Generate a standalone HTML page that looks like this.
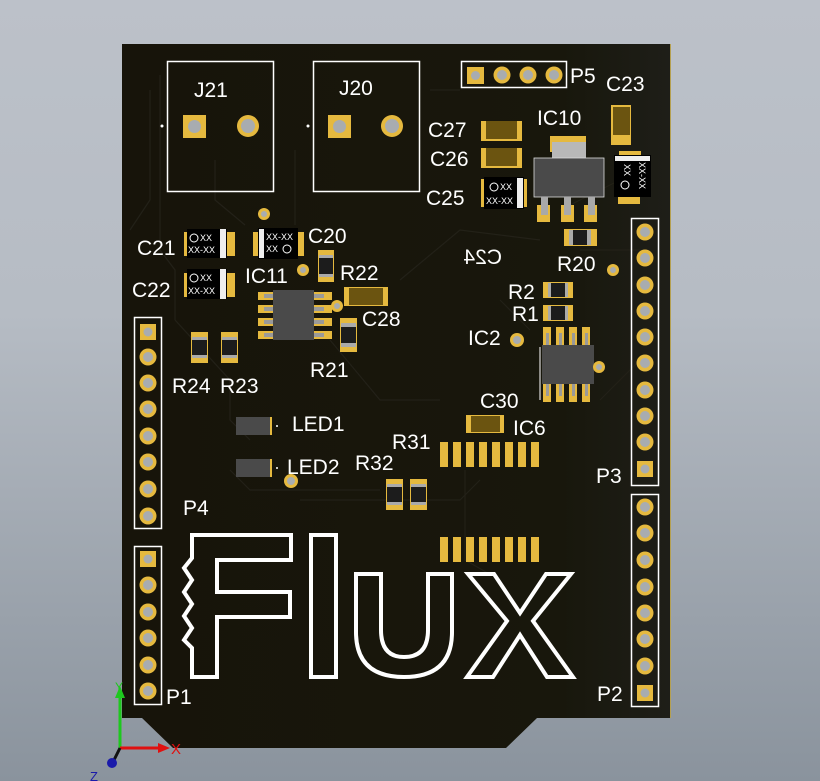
<!DOCTYPE html>
<html><head><meta charset="utf-8"><style>
html,body{margin:0;padding:0;width:820px;height:781px;overflow:hidden}
body{background:linear-gradient(#bcc1c9,#b6bcc4 40%,#8a939d 100%)}
svg{display:block}
text{font-family:"Liberation Sans",sans-serif;fill:#fff}
.l{font-size:21px}
.s{font-size:9px}
</style></head><body>
<svg width="820" height="781" viewBox="0 0 820 781" xmlns="http://www.w3.org/2000/svg">
<defs>
<linearGradient id="bd" x1="0" x2="1"><stop offset="0" stop-color="#17140a"/><stop offset="0.8" stop-color="#18170c"/><stop offset="1" stop-color="#1e1e18"/></linearGradient>
</defs>
<path d="M122 44 H671 V718 H537 L506 748 H173 L142 718 H122 Z" fill="url(#bd)"/>
<line x1="670.5" y1="44" x2="670.5" y2="718" stroke="#b5a050" stroke-width="1"/>
<g stroke="#232118" stroke-width="1.2" fill="none">
<path d="M160 75 V250 L175 270 V320"/><path d="M150 90 V200 L130 230"/>
<path d="M215 160 V200 L245 225"/><path d="M295 150 V225"/>
<path d="M175 320 L230 380 V420 L250 440"/><path d="M230 470 L250 490 H380"/>
<path d="M300 500 H460 L480 480"/><path d="M465 470 V560 L500 580"/>
<path d="M330 340 L380 400 H440"/><path d="M600 400 L640 360"/>
<path d="M560 210 L620 180"/><path d="M430 90 H460"/><path d="M500 300 L530 330"/>
<path d="M580 250 H640"/><path d="M400 280 L460 230 L540 240"/>
</g>
<!-- J21 -->
<rect x="167.5" y="61.5" width="106" height="130" fill="none" stroke="#fff" stroke-width="1.5"/>
<text class="l" x="194" y="97">J21</text>
<rect x="183" y="115" width="23" height="23" fill="#e5b93f"/><circle cx="194.5" cy="126.5" r="6.5" fill="#a8acb0"/>
<circle cx="248" cy="126" r="11" fill="#e5b93f"/><circle cx="248" cy="126" r="7" fill="#a8acb0"/>
<circle cx="162" cy="126" r="1.5" fill="#fff"/>
<!-- J20 -->
<rect x="313.5" y="61.5" width="106" height="130" fill="none" stroke="#fff" stroke-width="1.5"/>
<text class="l" x="339" y="95">J20</text>
<rect x="328" y="115" width="23" height="23" fill="#e5b93f"/><circle cx="339.5" cy="126.5" r="6.5" fill="#a8acb0"/>
<circle cx="392" cy="126" r="11" fill="#e5b93f"/><circle cx="392" cy="126" r="7" fill="#a8acb0"/>
<circle cx="308" cy="126" r="1.5" fill="#fff"/>
<!-- P5 -->
<rect x="461.5" y="61.5" width="105" height="26" fill="none" stroke="#fff" stroke-width="1.5"/>
<rect x="467" y="67" width="17" height="17" fill="#e5b93f"/><circle cx="475.5" cy="75.5" r="4.5" fill="#a8acb0"/>
<g fill="#e5b93f"><circle cx="502" cy="75" r="8.5"/><circle cx="528" cy="75" r="8.5"/><circle cx="554" cy="75" r="8.5"/></g>
<g fill="#a8acb0"><circle cx="502" cy="75" r="5"/><circle cx="528" cy="75" r="5"/><circle cx="554" cy="75" r="5"/></g>
<text class="l" x="570" y="83">P5</text>
<text class="l" x="606" y="91">C23</text>
<rect x="611" y="105" width="20" height="40" fill="#e5b93f"/><rect x="613" y="107" width="17" height="28" fill="#6b5410"/>
<!-- IC10 -->
<text class="l" x="537" y="125">IC10</text>
<rect x="550" y="136" width="36" height="16" fill="#e5b93f"/>
<rect x="552" y="142" width="34" height="18" fill="#b8b8b8"/>
<rect x="534" y="158" width="70" height="39" fill="#4a4a4a" stroke="#ddd" stroke-width="0.8"/>
<g fill="#e5b93f"><rect x="537" y="205" width="13" height="17"/><rect x="561" y="205" width="13" height="17"/><rect x="584" y="205" width="13" height="17"/></g>
<g fill="#a9a9a9"><rect x="541" y="197" width="7" height="18"/><rect x="564" y="197" width="7" height="18"/><rect x="588" y="197" width="7" height="18"/></g>
<rect x="619" y="151" width="22" height="7" fill="#e5b93f"/><rect x="618" y="197" width="22" height="7" fill="#e5b93f"/>
<rect x="614" y="155" width="37" height="42" fill="#000"/><rect x="615" y="156" width="35" height="5" fill="#eee"/>
<text class="s" transform="translate(624,176) rotate(90)" x="-12" y="0">XX</text>
<text class="s" transform="translate(639,176) rotate(90)" x="-14" y="0">XX-XX</text>
<circle cx="625" cy="185" r="4" fill="none" stroke="#fff" stroke-width="1"/>
<!-- C27 C26 C25 -->
<text class="l" x="428" y="137">C27</text>
<rect x="481" y="121" width="41" height="20" fill="#e5b93f"/><rect x="486" y="121" width="31" height="18" fill="#6b5410"/>
<text class="l" x="430" y="166">C26</text>
<rect x="481" y="148" width="41" height="20" fill="#e5b93f"/><rect x="486" y="148" width="31" height="18" fill="#6b5410"/>
<text class="l" x="426" y="205">C25</text>
<rect x="481" y="179" width="5" height="28" fill="#e5b93f"/><rect x="522" y="179" width="5" height="28" fill="#e5b93f"/>
<rect x="484" y="177" width="40" height="32" fill="#000"/><rect x="517" y="178" width="6" height="30" fill="#eee"/>
<circle cx="494" cy="187" r="4" fill="none" stroke="#fff" stroke-width="1"/>
<text class="s" x="500" y="190">XX</text><text class="s" x="486" y="204">XX-XX</text>
<text class="l" transform="translate(960,0) scale(-1,1)" x="458" y="264">C24</text>
<!-- R20 -->
<rect x="564" y="229" width="33" height="17" fill="#e5b93f"/><rect x="569" y="230" width="22" height="15" fill="#aaa"/><rect x="573" y="230" width="14" height="15" fill="#1c1c1c"/>
<text class="l" x="557" y="271">R20</text>
<circle cx="613" cy="270" r="6" fill="#e5b93f"/><circle cx="613" cy="270" r="3" fill="#a8acb0"/>
<text class="l" x="508" y="299">R2</text>
<rect x="543" y="282" width="30" height="16" fill="#e5b93f"/><rect x="548" y="283" width="20" height="14" fill="#aaa"/><rect x="551" y="283" width="14" height="14" fill="#1c1c1c"/>
<text class="l" x="512" y="321">R1</text>
<rect x="543" y="305" width="30" height="16" fill="#e5b93f"/><rect x="548" y="306" width="20" height="14" fill="#aaa"/><rect x="551" y="306" width="14" height="14" fill="#1c1c1c"/>
<!-- IC2 -->
<text class="l" x="468" y="345">IC2</text>
<circle cx="517" cy="340" r="7" fill="#e5b93f"/><circle cx="517" cy="340" r="4" fill="#a8acb0"/>
<g fill="#e5b93f"><rect x="543" y="327" width="8" height="18"/><rect x="556" y="327" width="8" height="18"/><rect x="569" y="327" width="8" height="18"/><rect x="582" y="327" width="8" height="18"/>
<rect x="543" y="384" width="8" height="18"/><rect x="556" y="384" width="8" height="18"/><rect x="569" y="384" width="8" height="18"/><rect x="582" y="384" width="8" height="18"/></g>
<g fill="#9a9a9a"><rect x="546" y="333" width="3" height="12"/><rect x="559" y="333" width="3" height="12"/><rect x="572" y="333" width="3" height="12"/><rect x="585" y="333" width="3" height="12"/>
<rect x="546" y="384" width="3" height="12"/><rect x="559" y="384" width="3" height="12"/><rect x="572" y="384" width="3" height="12"/><rect x="585" y="384" width="3" height="12"/></g>
<rect x="542" y="345" width="52" height="39" fill="#4a4a4a"/>
<line x1="540" y1="347" x2="540" y2="400" stroke="#fff" stroke-width="1"/>
<circle cx="599" cy="367" r="6" fill="#e5b93f"/><circle cx="599" cy="367" r="3" fill="#a8acb0"/>
<text class="l" x="480" y="408">C30</text>
<rect x="466" y="415" width="38" height="18" fill="#e5b93f"/><rect x="471" y="416" width="29" height="16" fill="#6b5410"/>
<text class="l" x="513" y="435">IC6</text>
<g fill="#e5b93f">
<rect x="440" y="442" width="8" height="25"/><rect x="453" y="442" width="8" height="25"/><rect x="466" y="442" width="8" height="25"/><rect x="479" y="442" width="8" height="25"/><rect x="492" y="442" width="8" height="25"/><rect x="505" y="442" width="8" height="25"/><rect x="518" y="442" width="8" height="25"/><rect x="531" y="442" width="8" height="25"/>
<rect x="440" y="537" width="8" height="25"/><rect x="453" y="537" width="8" height="25"/><rect x="466" y="537" width="8" height="25"/><rect x="479" y="537" width="8" height="25"/><rect x="492" y="537" width="8" height="25"/><rect x="505" y="537" width="8" height="25"/><rect x="518" y="537" width="8" height="25"/><rect x="531" y="537" width="8" height="25"/>
</g>
<!-- P3 -->
<rect x="631.5" y="218.5" width="27" height="267" fill="none" stroke="#fff" stroke-width="1.5"/>
<g fill="#e5b93f"><circle cx="645" cy="232" r="8.5"/><circle cx="645" cy="258" r="8.5"/><circle cx="645" cy="285" r="8.5"/><circle cx="645" cy="311" r="8.5"/><circle cx="645" cy="337" r="8.5"/><circle cx="645" cy="363" r="8.5"/><circle cx="645" cy="390" r="8.5"/><circle cx="645" cy="416" r="8.5"/><circle cx="645" cy="442" r="8.5"/><rect x="637" y="461" width="16" height="16"/></g>
<g fill="#a8acb0"><circle cx="645" cy="232" r="5"/><circle cx="645" cy="258" r="5"/><circle cx="645" cy="285" r="5"/><circle cx="645" cy="311" r="5"/><circle cx="645" cy="337" r="5"/><circle cx="645" cy="363" r="5"/><circle cx="645" cy="390" r="5"/><circle cx="645" cy="416" r="5"/><circle cx="645" cy="442" r="5"/><circle cx="645" cy="469" r="4.5"/></g>
<text class="l" x="596" y="483">P3</text>
<!-- P2 -->
<rect x="631.5" y="494.5" width="27" height="212" fill="none" stroke="#fff" stroke-width="1.5"/>
<g fill="#e5b93f"><circle cx="645" cy="507" r="8.5"/><circle cx="645" cy="533" r="8.5"/><circle cx="645" cy="560" r="8.5"/><circle cx="645" cy="587" r="8.5"/><circle cx="645" cy="613" r="8.5"/><circle cx="645" cy="639" r="8.5"/><circle cx="645" cy="666" r="8.5"/><rect x="637" y="685" width="16" height="16"/></g>
<g fill="#a8acb0"><circle cx="645" cy="507" r="5"/><circle cx="645" cy="533" r="5"/><circle cx="645" cy="560" r="5"/><circle cx="645" cy="587" r="5"/><circle cx="645" cy="613" r="5"/><circle cx="645" cy="639" r="5"/><circle cx="645" cy="666" r="5"/><circle cx="645" cy="693" r="4.5"/></g>
<text class="l" x="597" y="701">P2</text>
<!-- P4 -->
<rect x="134.5" y="317.5" width="27" height="211" fill="none" stroke="#fff" stroke-width="1.5"/>
<g fill="#e5b93f"><rect x="140" y="324" width="16" height="16"/><circle cx="148" cy="357" r="8.5"/><circle cx="148" cy="383" r="8.5"/><circle cx="148" cy="409" r="8.5"/><circle cx="148" cy="436" r="8.5"/><circle cx="148" cy="462" r="8.5"/><circle cx="148" cy="489" r="8.5"/><circle cx="148" cy="516" r="8.5"/></g>
<g fill="#a8acb0"><circle cx="148" cy="332" r="4.5"/><circle cx="148" cy="357" r="5"/><circle cx="148" cy="383" r="5"/><circle cx="148" cy="409" r="5"/><circle cx="148" cy="436" r="5"/><circle cx="148" cy="462" r="5"/><circle cx="148" cy="489" r="5"/><circle cx="148" cy="516" r="5"/></g>
<text class="l" x="183" y="515">P4</text>
<!-- P1 -->
<rect x="134.5" y="546.5" width="27" height="158" fill="none" stroke="#fff" stroke-width="1.5"/>
<g fill="#e5b93f"><rect x="140" y="551" width="16" height="16"/><circle cx="148" cy="585" r="8.5"/><circle cx="148" cy="612" r="8.5"/><circle cx="148" cy="638" r="8.5"/><circle cx="148" cy="665" r="8.5"/><circle cx="148" cy="691" r="8.5"/></g>
<g fill="#a8acb0"><circle cx="148" cy="559" r="4.5"/><circle cx="148" cy="585" r="5"/><circle cx="148" cy="612" r="5"/><circle cx="148" cy="638" r="5"/><circle cx="148" cy="665" r="5"/><circle cx="148" cy="691" r="5"/></g>
<text class="l" x="166" y="704">P1</text>
<!-- C21 C22 C20 -->
<text class="l" x="137" y="255">C21</text>
<rect x="184" y="232" width="5" height="24" fill="#e5b93f"/><rect x="227" y="232" width="8" height="24" fill="#e5b93f"/>
<rect x="187" y="229" width="40" height="29" fill="#000"/><rect x="220" y="229" width="6" height="29" fill="#eee"/>
<circle cx="194" cy="238" r="4" fill="none" stroke="#fff" stroke-width="1"/><text class="s" x="200" y="241">XX</text><text class="s" x="188" y="253">XX-XX</text>
<text class="l" x="132" y="297">C22</text>
<rect x="184" y="273" width="5" height="24" fill="#e5b93f"/><rect x="227" y="273" width="8" height="24" fill="#e5b93f"/>
<rect x="187" y="269" width="40" height="30" fill="#000"/><rect x="220" y="269" width="6" height="30" fill="#eee"/>
<circle cx="194" cy="278" r="4" fill="none" stroke="#fff" stroke-width="1"/><text class="s" x="200" y="281">XX</text><text class="s" x="188" y="294">XX-XX</text>
<circle cx="264" cy="214" r="6" fill="#e5b93f"/><circle cx="264" cy="214" r="3" fill="#a8acb0"/>
<rect x="253" y="232" width="6" height="24" fill="#e5b93f"/><rect x="297" y="232" width="7" height="24" fill="#e5b93f"/>
<rect x="258" y="228" width="40" height="31" fill="#000"/><rect x="259" y="229" width="5" height="29" fill="#eee"/>
<text class="s" x="266" y="240">XX-XX</text><text class="s" x="266" y="252">XX</text><circle cx="287" cy="249" r="4" fill="none" stroke="#fff" stroke-width="1"/>
<text class="l" x="308" y="243">C20</text>
<!-- R22 -->
<rect x="318" y="250" width="16" height="32" fill="#e5b93f"/><rect x="319" y="255" width="14" height="22" fill="#aaa"/><rect x="319" y="258" width="14" height="16" fill="#1c1c1c"/>
<text class="l" x="340" y="280">R22</text>
<text class="l" x="245" y="283">IC11</text>
<circle cx="303" cy="270" r="6" fill="#e5b93f"/><circle cx="303" cy="270" r="3" fill="#a8acb0"/>
<rect x="344" y="287" width="44" height="19" fill="#e5b93f"/><rect x="349" y="288" width="34" height="17" fill="#6b5410"/>
<text class="l" x="362" y="326">C28</text>
<!-- IC11 -->
<g fill="#e5b93f"><rect x="258" y="292" width="16" height="8"/><rect x="258" y="305" width="16" height="8"/><rect x="258" y="318" width="16" height="8"/><rect x="258" y="331" width="16" height="8"/>
<rect x="314" y="292" width="18" height="8"/><rect x="314" y="305" width="18" height="8"/><rect x="314" y="318" width="18" height="8"/><rect x="314" y="331" width="18" height="8"/></g>
<g fill="#9a9a9a"><rect x="264" y="294" width="10" height="4"/><rect x="264" y="307" width="10" height="4"/><rect x="264" y="320" width="10" height="4"/><rect x="264" y="333" width="10" height="4"/>
<rect x="314" y="294" width="10" height="4"/><rect x="314" y="307" width="10" height="4"/><rect x="314" y="320" width="10" height="4"/><rect x="314" y="333" width="10" height="4"/></g>
<rect x="273" y="290" width="41" height="50" fill="#4a4a4a"/>
<circle cx="337" cy="306" r="6" fill="#e5b93f"/><circle cx="337" cy="306" r="3" fill="#a8acb0"/>
<!-- R21 -->
<rect x="340" y="318" width="17" height="34" fill="#e5b93f"/><rect x="341" y="323" width="15" height="24" fill="#aaa"/><rect x="341" y="327" width="15" height="16" fill="#1c1c1c"/>
<text class="l" x="310" y="377">R21</text>
<!-- R24 R23 -->
<rect x="191" y="332" width="17" height="31" fill="#e5b93f"/><rect x="192" y="337" width="15" height="21" fill="#aaa"/><rect x="192" y="340" width="15" height="15" fill="#1c1c1c"/>
<rect x="221" y="332" width="17" height="31" fill="#e5b93f"/><rect x="222" y="337" width="15" height="21" fill="#aaa"/><rect x="222" y="340" width="15" height="15" fill="#1c1c1c"/>
<text class="l" x="172" y="393">R24</text><text class="l" x="220" y="393">R23</text>
<!-- LEDs -->
<rect x="236" y="417" width="36" height="18" fill="#4a4a4a"/><rect x="270" y="417" width="2" height="18" fill="#e5b93f"/>
<circle cx="277" cy="426" r="1" fill="#fff"/>
<text class="l" x="292" y="431">LED1</text>
<rect x="236" y="459" width="36" height="18" fill="#4a4a4a"/><rect x="270" y="459" width="2" height="18" fill="#e5b93f"/>
<circle cx="277" cy="468" r="1" fill="#fff"/>
<text class="l" x="287" y="474">LED2</text>
<circle cx="291" cy="481" r="7" fill="#e5b93f"/><circle cx="291" cy="481" r="4" fill="#a8acb0"/>
<text class="l" x="355" y="470">R32</text><text class="l" x="392" y="449">R31</text>
<rect x="386" y="479" width="17" height="31" fill="#e5b93f"/><rect x="387" y="484" width="15" height="21" fill="#aaa"/><rect x="387" y="487" width="15" height="15" fill="#1c1c1c"/>
<rect x="410" y="479" width="17" height="31" fill="#e5b93f"/><rect x="411" y="484" width="15" height="21" fill="#aaa"/><rect x="411" y="487" width="15" height="15" fill="#1c1c1c"/>
<!-- Flux -->
<g fill="none" stroke="#fff" stroke-width="4" stroke-linejoin="miter">
<path d="M192 535 H291 V560 H217 V592 H290 V617 H217 V677 H192 V648 L184 640 L192 628 L184 616 L192 604 L184 592 L192 580 L184 568 L192 558 Z"/>
<rect x="311" y="535" width="25" height="142"/>
<path d="M356 574 H381 V630 Q381 657 404 657 Q428 657 428 630 V574 H452 V632 Q452 677 404 677 Q356 677 356 632 Z"/>
<path d="M468 574 H494 L520 613 L546 574 H571 L533 621 L573 677 H547 L520 635 L493 677 H467 L507 621 Z"/>
</g>
<!-- axis -->
<line x1="120" y1="748" x2="120" y2="693" stroke="#1ec81e" stroke-width="3"/>
<polygon points="115,698 125,698 120,686" fill="#1ec81e"/>
<text x="115" y="691" font-size="12" style="fill:#1ec81e">Y</text>
<line x1="120" y1="748" x2="160" y2="748" stroke="#e01010" stroke-width="3"/>
<polygon points="158,743 158,753 170,748" fill="#e01010"/>
<text x="171" y="754" font-size="15" style="fill:#e01010">X</text>
<line x1="120" y1="748" x2="113" y2="762" stroke="#111" stroke-width="3"/>
<circle cx="112" cy="763" r="5" fill="#1a1aaa"/>
<text x="90" y="781" font-size="13" style="fill:#1a1aaa">Z</text>
</svg>
</body></html>
